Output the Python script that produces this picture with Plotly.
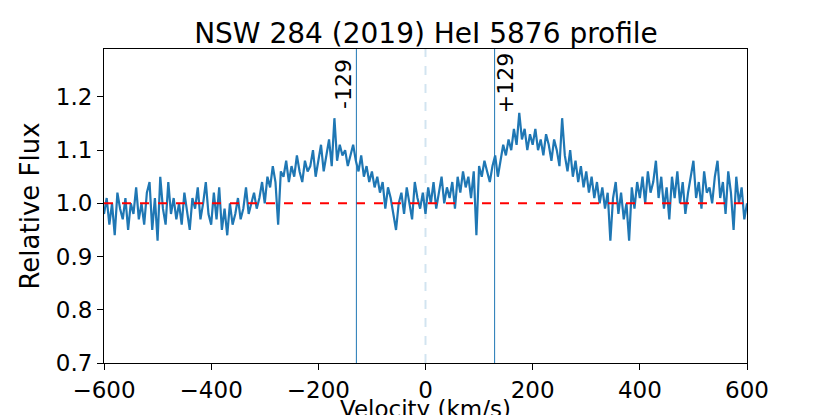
import plotly.graph_objects as go

# velocity grid (km/s), 5 km/s steps from -600 to 600
velocity = list(range(-600, 605, 5))

# relative flux, 10 values per 50 km/s
flux = [
    0.98, 1.01, 0.96, 1.00, 0.94, 1.02, 0.99, 0.97, 1.01, 0.95,
    1.00, 0.98, 1.03, 0.97, 1.00, 0.96, 1.02, 1.04, 0.95, 1.01,
    0.93, 1.05, 0.99, 0.96, 1.04, 0.98, 1.01, 0.97, 1.00, 0.96,
    1.02, 0.98, 0.95, 1.01, 0.99, 1.03, 0.97, 1.00, 1.04, 0.98,
    0.96, 1.02, 0.97, 1.03, 0.95, 0.99, 0.94, 1.00, 0.96, 0.98,
    1.01, 0.97, 0.99, 1.03, 0.98, 1.00, 1.02, 0.99, 1.01, 1.04,
    1.00, 1.05, 1.03, 1.07, 1.04, 0.96, 1.06, 1.05, 1.08, 1.04,
    1.07, 1.05, 1.09, 1.06, 1.04, 1.08, 1.06, 1.07, 1.10, 1.05,
    1.08, 1.11, 1.06, 1.09, 1.12, 1.07, 1.16, 1.08, 1.11, 1.09,
    1.10, 1.07, 1.09, 1.11, 1.08, 1.06, 1.09, 1.05, 1.07, 1.04,
    1.06, 1.03, 1.05, 1.02, 1.04, 0.99, 1.03, 1.01, 0.98, 0.95,
    1.00, 1.02, 0.98, 1.03, 1.00, 0.97, 1.04, 1.01, 0.99, 1.02,
    0.98, 1.03, 1.00, 1.04, 0.99, 1.02, 1.05, 1.00, 1.03, 1.01,
    1.04, 0.99, 1.05, 1.02, 1.06, 1.03, 1.05, 1.01, 1.06, 0.94,
    1.07, 1.05, 1.08, 1.06, 1.04, 1.07, 1.09, 1.05, 1.08, 1.11,
    1.09, 1.12, 1.10, 1.14, 1.11, 1.17, 1.12, 1.14, 1.10, 1.13,
    1.11, 1.14, 1.10, 1.12, 1.09, 1.13, 1.11, 1.08, 1.12, 1.10,
    1.07, 1.16, 1.09, 1.06, 1.10, 1.05, 1.08, 1.04, 1.07, 1.03,
    1.06, 1.02, 1.05, 1.01, 1.04, 1.00, 1.03, 0.99, 1.02, 0.93,
    1.01, 1.04, 0.98, 1.02, 0.97, 1.00, 0.93, 1.03, 0.99, 1.04,
    1.01, 1.05, 1.00, 1.06, 1.02, 1.04, 1.08, 1.01, 1.05, 0.99,
    1.03, 0.97, 1.05, 1.01, 1.06, 1.00, 1.04, 0.98, 1.02, 1.05,
    1.08, 1.01, 1.04, 0.99, 1.06, 1.02, 1.03, 1.00, 1.05, 1.08,
    1.01, 1.04, 0.98, 1.06, 1.02, 0.95, 1.05, 1.00, 1.03, 0.97,
    1.00,
]

peak_vel = [-129, 129]
peak_labels = ['-129', '+129']
continuum = 1.0

blue = '#1f77b4'
font = 'DejaVu Sans'

fig = go.Figure()
fig.add_trace(go.Scatter(x=velocity, y=flux, mode='lines',
                         line=dict(color=blue, width=2.2), showlegend=False))
# continuum level
fig.add_trace(go.Scatter(x=[-600, 600], y=[continuum, continuum], mode='lines',
                         line=dict(color='red', width=2, dash='dash'), showlegend=False))

# rest velocity
fig.add_vline(x=0, line=dict(color='rgba(31,119,180,0.2)', width=2, dash='dash'))
for v, lab in zip(peak_vel, peak_labels):
    fig.add_vline(x=v, line=dict(color=blue, width=1))
    fig.add_annotation(x=v, y=1.225, text=lab, textangle=-90, showarrow=False,
                       xshift=-13 if v < 0 else 11,
                       font=dict(family=font, size=22, color='black'))

# x label sits low, partly below the page edge as in the original
fig.add_annotation(x=0.5, y=-0.099, xref='paper', yref='paper', yanchor='top',
                   text='Velocity (km/s)', showarrow=False,
                   font=dict(family=font, size=23, color='black'))

# page body adds an 8px offset, so the figure is 8px smaller than the window
fig.update_layout(
    width=822, height=407,
    margin=dict(l=96, r=83, t=41, b=52),
    plot_bgcolor='white', paper_bgcolor='white',
    font=dict(family=font, size=22, color='black'),
    title=dict(text='NSW 284 (2019) HeI 5876 profile', x=0.5085, xanchor='center',
               y=0.939, yref='container', yanchor='middle',
               font=dict(family=font, size=28, color='black')),
)
fig.update_xaxes(range=[-600, 600], tickvals=[-600, -400, -200, 0, 200, 400, 600],
                 showgrid=False, zeroline=False, showline=True, mirror=True,
                 linecolor='black', linewidth=1, ticks='outside', ticklen=6,
                 tickcolor='black', tickfont=dict(size=23), automargin=False)
fig.update_yaxes(range=[0.7, 1.29], tickvals=[0.7, 0.8, 0.9, 1.0, 1.1, 1.2],
                 tickformat='.1f', showgrid=False, zeroline=False, showline=True,
                 mirror=True, linecolor='black', linewidth=1, ticks='outside',
                 ticklen=6, tickcolor='black', tickfont=dict(size=23), automargin=False,
                 title=dict(text='Relative Flux', standoff=8))

fig.write_html('out.html')
